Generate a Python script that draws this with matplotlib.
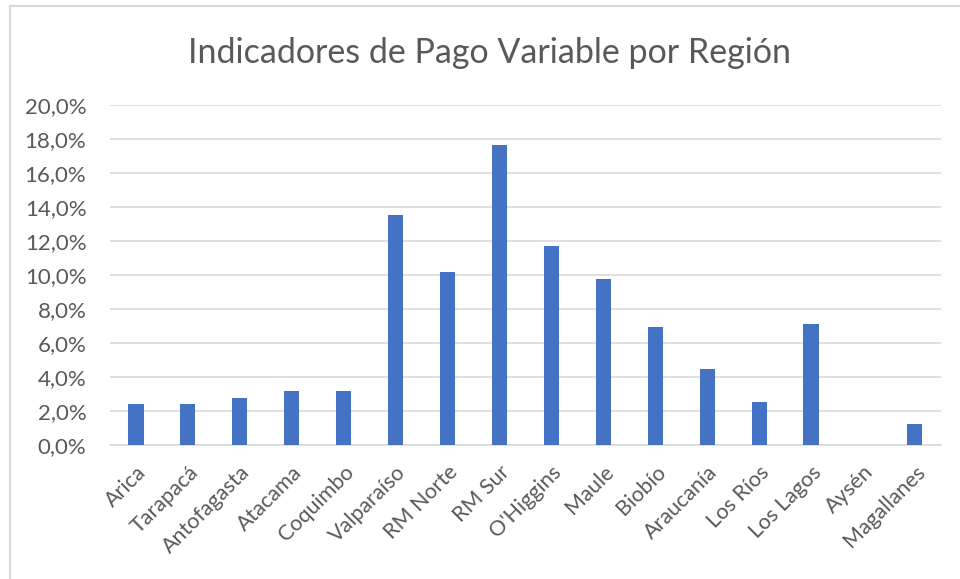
import numpy as np
import matplotlib.pyplot as plt
from matplotlib.ticker import FuncFormatter
from matplotlib.patches import Rectangle

regiones = ["Arica", "Tarapacá", "Antofagasta", "Atacama", "Coquimbo", "Valparaíso",
            "RM Norte", "RM Sur", "O'Higgins", "Maule", "Biobío", "Araucanía",
            "Los Ríos", "Los Lagos", "Aysén", "Magallanes"]
valores = [2.4, 2.4, 2.75, 3.2, 3.2, 13.5, 10.15, 17.65, 11.7, 9.75, 6.97, 4.5,
           2.52, 7.12, 0.0, 1.27]  # %
yticks = np.arange(0, 20.1, 2)

gris = "#595959"
plt.rcParams['font.family'] = ['Lato', 'DejaVu Sans']

fig = plt.figure(figsize=(9.6, 5.79), dpi=100)
ax = fig.add_axes([0.1146, 0.2309, 0.8654, 0.5883])

# chart area border (Excel-style)
fig.add_artist(Rectangle((10/960, -0.1), 1.2, 1 - 6/579 + 0.1, transform=fig.transFigure,
                         fill=False, edgecolor="#d9d9d9", linewidth=1.5))

x = np.arange(len(regiones))
ax.bar(x, valores, width=0.29, color="#4472C4", zorder=3)

ax.set_xlim(-0.5, len(regiones) - 0.5)
ax.set_ylim(0, 20)
ax.set_yticks(yticks)
ax.yaxis.set_major_formatter(FuncFormatter(lambda v, p: f"{v:.1f}%".replace(".", ",")))
ax.grid(axis="y", color="#d9d9d9", linewidth=1.2, zorder=0)

for s in ["top", "right", "left"]:
    ax.spines[s].set_visible(False)
ax.spines["bottom"].set_color("#d9d9d9")
ax.spines["bottom"].set_linewidth(1.2)

ax.set_xticks(x)
ax.set_xticklabels(regiones, rotation=45, ha="right", rotation_mode="anchor",
                   fontsize=15.5, color=gris)
ax.tick_params(axis="x", length=0, pad=12)
ax.tick_params(axis="y", length=0, pad=17, labelsize=16, labelcolor=gris)

fig.text(0.51, 0.908, "Indicadores de Pago Variable por Región", ha="center", va="center",
         fontsize=24.5, color=gris)

fig.savefig("out.png", dpi=100)
